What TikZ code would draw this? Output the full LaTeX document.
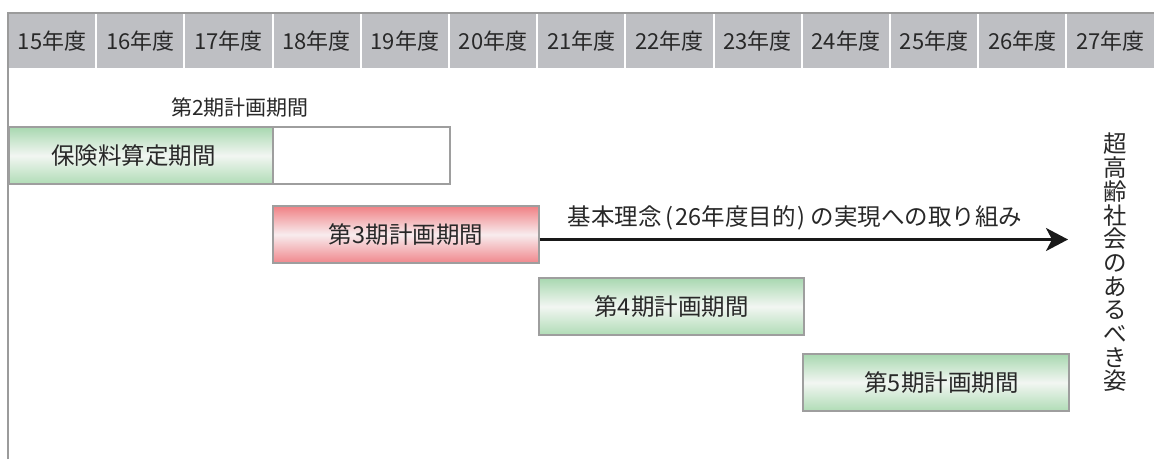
\documentclass[tikz,border=0pt]{standalone}
\usepackage{fontspec}
\newfontfamily\jp{Noto Sans CJK JP}
\usetikzlibrary{arrows.meta}
\definecolor{hdr}{RGB}{190,191,195}
\definecolor{framecol}{RGB}{155,155,155}
\definecolor{bord}{RGB}{158,158,158}
\definecolor{txt}{RGB}{40,40,40}
\definecolor{gtop}{RGB}{168,216,176}
\definecolor{gmid}{RGB}{242,246,242}
\definecolor{gbot}{RGB}{176,220,182}
\definecolor{rtop}{RGB}{240,128,132}
\definecolor{rmid}{RGB}{248,236,238}
\definecolor{rbot}{RGB}{240,135,140}
\tikzset{
  hcell/.style={fill=hdr, inner sep=0, minimum height=54, minimum width=86.2, text=txt, font=\jp\fontsize{22}{22}\selectfont},
  basebox/.style={draw=bord, line width=1.2pt, inner sep=0, minimum height=57, text=txt, font=\jp\fontsize{23.5}{23.5}\selectfont},
  gbox/.style={basebox, top color=gtop, bottom color=gbot, middle color=gmid},
  rbox/.style={basebox, top color=rtop, bottom color=rbot, middle color=rmid},
  wbox/.style={basebox, fill=white},
  lbl/.style={inner sep=0, text=txt, font=\jp\fontsize{21}{21}\selectfont},
  biglbl/.style={inner sep=0, text=txt, font=\jp\fontsize{23.5}{23.5}\selectfont},
  frameline/.style={draw=framecol, line width=2pt},
  arrowline/.style={draw=black!90, line width=2.4pt, -{Stealth[length=22pt, width=23pt, inset=6pt]}}
}
\begin{document}
\begin{tikzpicture}[x=1pt,y=-1pt]
\useasboundingbox (0,0) rectangle (1154,459);
\fill[white] (0,0) rectangle (1154,459);
% frame
\draw[frameline] (8,459) -- (8,13) -- (1154,13);
% header
\foreach \i [evaluate=\i as \yr using int(\i+15)] in {0,...,12}{
  \node[hcell] (h\i) at ({8+88.2*\i+44.1},41) {\yr{}年度};
}
% period 2
\node[lbl] (lbl2) at (240,108) {第2期計画期間};
\node[gbox, minimum width=264] (hoken) at (141,155.5) {保険料算定期間\hspace*{15pt}};
\node[wbox, minimum width=177] (rest2) at (361.5,155.5) {};
% period 3
\node[rbox, minimum width=266] (p3) at (406,234.5) {第3期計画期間};
% arrow
\coordinate (goal) at (1068,239.5);
\draw[arrowline] ([yshift=-5pt]p3.east) -- (goal);
\node[biglbl] (goaltext) at (795,217.5) {基本理念\hspace{4pt}(\hspace{2pt}26年度目的\hspace{2pt})\hspace{5pt}の実現への取り組み};
% period 4, 5
\node[gbox, minimum width=265] (p4) at (671.5,306.5) {第4期計画期間};
\node[gbox, minimum width=266] (p5) at (936,382.5) {\hspace*{11pt}第5期計画期間};
% vertical text
\node[align=center, inner sep=0, text=txt, font=\jp\fontsize{23.5}{23.7}\selectfont] (vision) at (1115,262.5) {超\\高\\齢\\社\\会\\の\\あ\\る\\べ\\き\\姿};
\end{tikzpicture}
\end{document}
